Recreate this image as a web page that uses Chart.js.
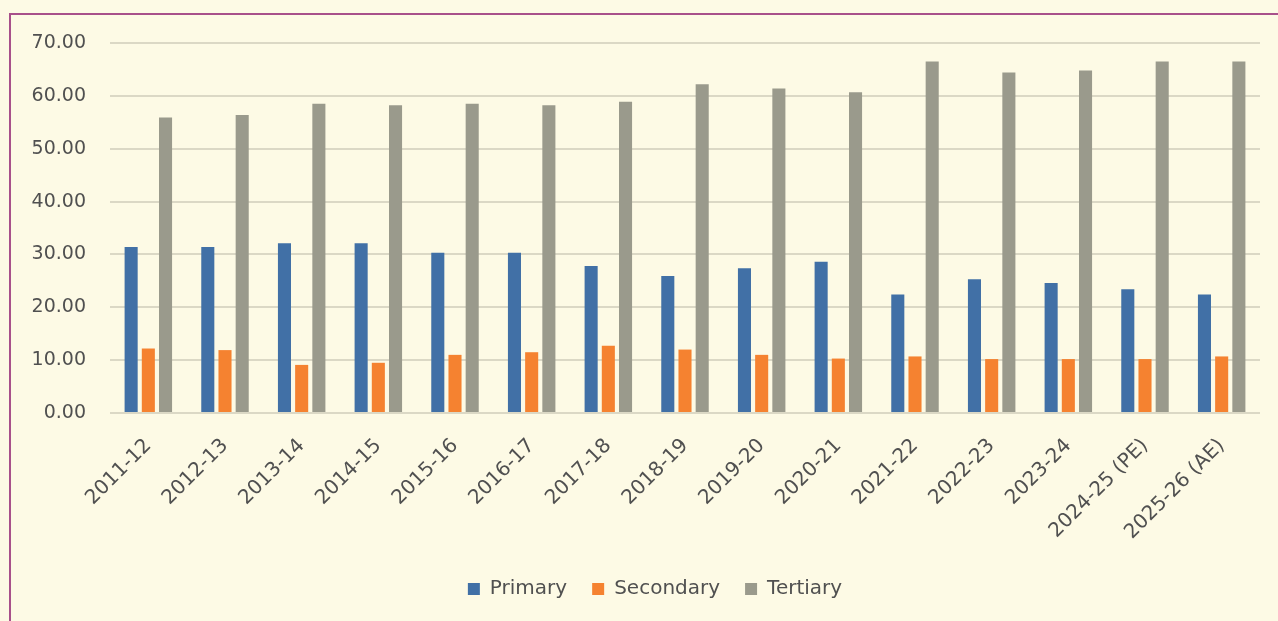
<!DOCTYPE html>
<html lang="en">
<head>
    <meta charset="UTF-8">
    <title>Sector Share</title>
    <script src="https://cdn.jsdelivr.net/npm/chart.js@4.4.0/dist/chart.umd.min.js"></script>
    <style>
        html, body { margin: 0; padding: 0; background: #fdfae5; overflow: hidden; }
        #frame {
            position: absolute; left: 9px; top: 13px;
            width: 1300px; height: 620px;
            border-left: 2px solid #a8508a;
            border-top: 2px solid #a8508a;
        }
        #wrap { position: absolute; left: 11px; top: 15px; width: 1288px; height: 606px; }
    </style>
</head>
<body>
    <div id="frame"></div>
    <div id="wrap"><canvas id="sectorChart"></canvas></div>

    <script>
        // years on the x axis
        const years = ['2011-12', '2012-13', '2013-14', '2014-15', '2015-16', '2016-17', '2017-18',
            '2018-19', '2019-20', '2020-21', '2021-22', '2022-23', '2023-24', '2024-25 (PE)', '2025-26 (AE)'];

        // share values
        const primary   = [31.4, 31.4, 32.1, 32.1, 30.3, 30.3, 27.8, 25.9, 27.4, 28.6, 22.4, 25.3, 24.6, 23.4, 22.4];
        const secondary = [12.2, 11.9, 9.1, 9.5, 11.0, 11.5, 12.7, 12.0, 11.0, 10.3, 10.7, 10.2, 10.2, 10.2, 10.7];
        const tertiary  = [55.9, 56.4, 58.5, 58.2, 58.5, 58.2, 58.9, 62.2, 61.4, 60.7, 66.5, 64.4, 64.8, 66.5, 66.5];

        const yTicks = [0, 10, 20, 30, 40, 50, 60, 70];

        const textColor = '#505050';
        const gridColor = '#dbd8c5';

        function bars(label, data, color) {
            return {
                label: label,
                data: data,
                backgroundColor: color,
                borderWidth: 0,
                barPercentage: 0.76,
                categoryPercentage: 0.673
            };
        }

        new Chart(document.getElementById('sectorChart'), {
            type: 'bar',
            data: {
                labels: years,
                datasets: [
                    bars('Primary', primary, '#4170a6'),
                    bars('Secondary', secondary, '#f58230'),
                    bars('Tertiary', tertiary, '#9a9a8c')
                ]
            },
            options: {
                responsive: true,
                maintainAspectRatio: false,
                animation: false,
                layout: { padding: { top: 28, right: 0, bottom: 12, left: 0 } },
                plugins: {
                    tooltip: { enabled: false },
                    legend: {
                        position: 'bottom',
                        labels: {
                            color: textColor,
                            font: { family: 'DejaVu Sans', size: 20 },
                            boxWidth: 12,
                            boxHeight: 12,
                            padding: 25
                        }
                    }
                },
                scales: {
                    x: {
                        grid: { display: false },
                        border: { display: false },
                        ticks: {
                            color: textColor,
                            font: { family: 'DejaVu Sans', size: 20 },
                            minRotation: 45,
                            maxRotation: 45,
                            padding: 13
                        },
                        afterFit: function(scale) {
                            scale.height = 141;
                            scale.paddingRight = 39;
                        }
                    },
                    y: {
                        min: 0,
                        max: 70,
                        afterBuildTicks: function(scale) {
                            scale.ticks = yTicks.map(v => ({ value: v }));
                        },
                        grid: { color: gridColor, lineWidth: 2, drawTicks: false },
                        border: { display: false },
                        ticks: {
                            color: textColor,
                            font: { family: 'DejaVu Sans', size: 19 },
                            padding: 24,
                            callback: v => Number(v).toFixed(2)
                        },
                        afterFit: function(scale) {
                            scale.width = 99;
                            scale.paddingTop = 0;
                            scale.paddingBottom = 0;
                        }
                    }
                }
            }
        });
    </script>
</body>
</html>
